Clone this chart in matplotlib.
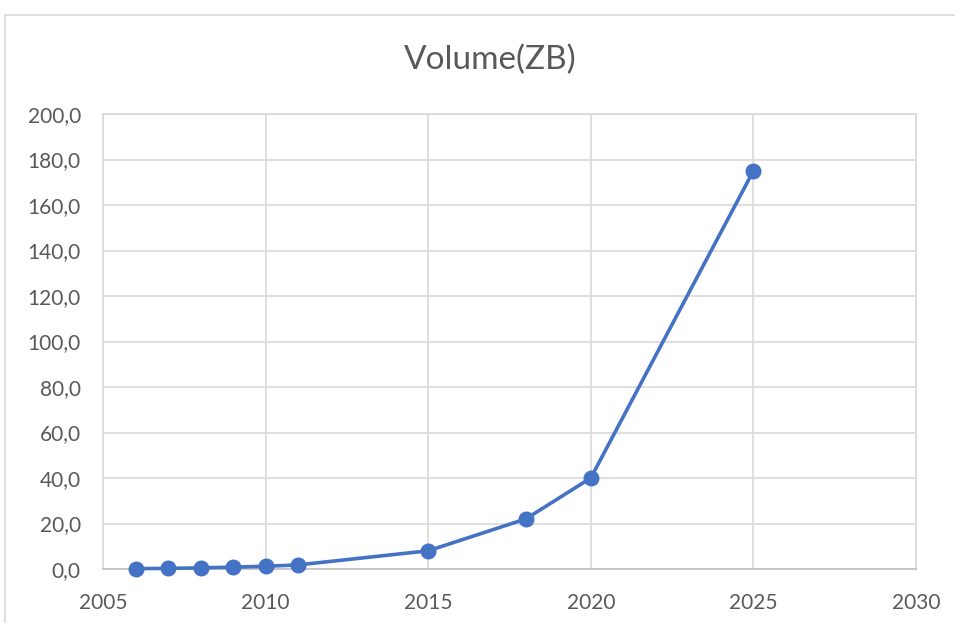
import matplotlib.pyplot as plt
from matplotlib.patches import Rectangle
from matplotlib.ticker import FuncFormatter

years = [2006, 2007, 2008, 2009, 2010, 2011, 2015, 2018, 2020, 2025]
volume = [0.16, 0.28, 0.5, 0.8, 1.2, 1.8, 8.0, 22.0, 40.0, 175.0]

plt.rcParams['font.family'] = ['Lato', 'DejaVu Sans']

fig = plt.figure(figsize=(9.55, 6.23), dpi=100)
fig.patches.append(Rectangle((5 / 955, -0.1), 1.0, 1 - 15 / 623 + 0.1,
                             transform=fig.transFigure, fill=False,
                             edgecolor='#d9d9d9', linewidth=1.2))

ax = fig.add_axes([103 / 955, 1 - 569 / 623, 813 / 955, 455 / 623])
ax.plot(years, volume, color='#4472c4', linewidth=2.6, marker='o',
        markersize=10.5, zorder=3, clip_on=False)

ax.set_xlim(2005, 2030)
ax.set_ylim(0, 200)
ax.set_xticks(range(2005, 2031, 5))
ax.set_yticks(range(0, 201, 20))
ax.yaxis.set_major_formatter(FuncFormatter(lambda v, p: f'{v:.1f}'.replace('.', ',')))

ax.grid(True, color='#d9d9d9', linewidth=1.2)
ax.set_axisbelow(True)
for s in ax.spines.values():
    s.set_color('#d9d9d9')
    s.set_linewidth(1.2)
ax.spines['bottom'].set_color('#bfbfbf')
ax.tick_params(length=0, labelsize=15, labelcolor='#595959')
ax.tick_params(axis='y', pad=16)
ax.tick_params(axis='x', pad=17)

fig.text(490 / 955, 1 - 60 / 623, 'Volume(ZB)', ha='center', va='center',
         fontsize=24, color='#595959')

fig.savefig('out.png', dpi=100)
